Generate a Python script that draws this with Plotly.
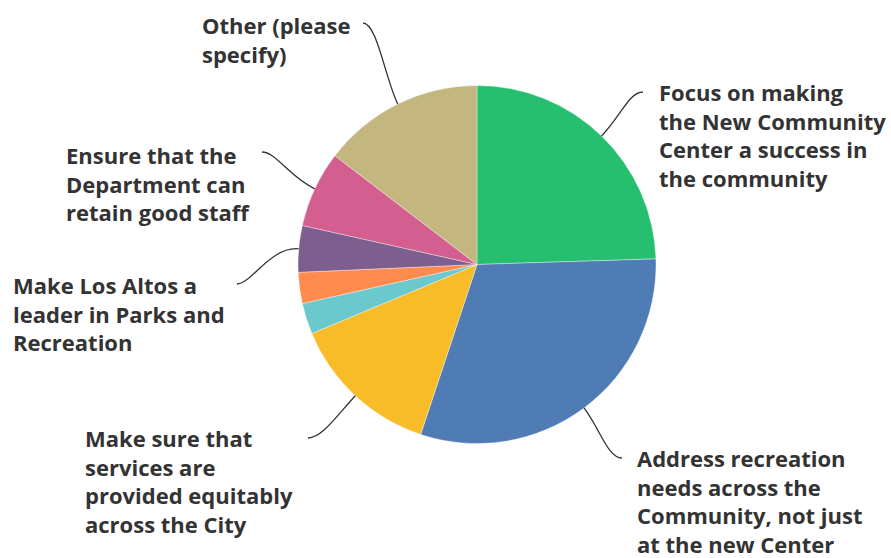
import math
import plotly.graph_objects as go

# ---- data ----
categories = [
    "Focus on making the New Community Center a success in the community",
    "Address recreation needs across the Community, not just at the new Center",
    "Make sure that services are provided equitably across the City",
    "Option 4",
    "Option 5",
    "Make Los Altos a leader in Parks and Recreation",
    "Ensure that the Department can retain good staff",
    "Other (please specify)",
]
values = [24.5, 30.6, 13.6, 2.8, 2.8, 4.2, 6.9, 14.6]
display_text = [
    "Focus on making<br>the New Community<br>Center a success in<br>the community",
    "Address recreation<br>needs across the<br>Community, not just<br>at the new Center",
    "Make sure that<br>services are<br>provided equitably<br>across the City",
    "",
    "",
    "Make Los Altos a<br>leader in Parks and<br>Recreation",
    "Ensure that the<br>Department can<br>retain good staff",
    "Other (please<br>specify)",
]
colors = ["#26BF6F", "#507CB6", "#F7BC28", "#6BC8CD", "#FF8B4F", "#7D5E8F", "#D25F90", "#C4B67F"]

# ---- layout / style ----
W, H = 891, 558
CX, CY, R = 477, 264.5, 179
FONT = dict(family="Open Sans", size=22, color="#333333", weight=700)

# label anchor (top-left of text block) and leader-line end point, in pixels
label_layout = {
    0: dict(tx=657, ty=75, ex=643, ey=92, side=1),
    1: dict(tx=635, ty=441, ex=622, ey=458, side=1),
    2: dict(tx=83, ty=421, ex=308, ey=438, side=-1),
    5: dict(tx=11, ty=268, ex=237, ey=284, side=-1),
    6: dict(tx=64, ty=138, ex=262, ey=152, side=-1),
    7: dict(tx=200, ty=8, ex=363, ey=23, side=-1),
}


def px_to_paper(x, y):
    return x / W, 1 - y / H


fig = go.Figure()
fig.add_trace(go.Pie(
    labels=categories,
    values=values,
    sort=False,
    direction="clockwise",
    rotation=0,
    textinfo="none",
    hoverinfo="label+percent",
    marker=dict(colors=colors, line=dict(color="rgba(255,255,255,0.6)", width=0.6)),
    domain=dict(x=[(CX - R) / W, (CX + R) / W], y=[1 - (CY + R) / H, 1 - (CY - R) / H]),
    showlegend=False,
))

total = sum(values)
shapes = []
annotations = []
cum = 0.0
for i, v in enumerate(values):
    mid = (cum + v / 2) / total * 2 * math.pi
    cum += v
    if i not in label_layout:
        continue
    L = label_layout[i]
    sx = CX + R * math.sin(mid)
    sy = CY - R * math.cos(mid)
    # control points: radial out from slice, horizontal into label
    c1x = sx + 28 * math.sin(mid)
    c1y = sy - 28 * math.cos(mid)
    c2x = L["ex"] - L["side"] * 14
    c2y = L["ey"]
    p = [px_to_paper(sx, sy), px_to_paper(c1x, c1y), px_to_paper(c2x, c2y), px_to_paper(L["ex"], L["ey"])]
    path = "M {:.5f},{:.5f} C {:.5f},{:.5f} {:.5f},{:.5f} {:.5f},{:.5f}".format(
        p[0][0], p[0][1], p[1][0], p[1][1], p[2][0], p[2][1], p[3][0], p[3][1])
    shapes.append(dict(type="path", path=path, xref="paper", yref="paper",
                       line=dict(color="#333333", width=1.3)))
    ax, ay = px_to_paper(L["tx"], L["ty"])
    annotations.append(dict(text=display_text[i], x=ax, y=ay, xref="paper", yref="paper",
                            xanchor="left", yanchor="top", align="left", showarrow=False,
                            font=FONT))

fig.update_layout(
    width=W, height=H,
    margin=dict(l=0, r=0, t=0, b=0),
    paper_bgcolor="white", plot_bgcolor="white",
    shapes=shapes, annotations=annotations,
)

fig.write_html("out.html")
